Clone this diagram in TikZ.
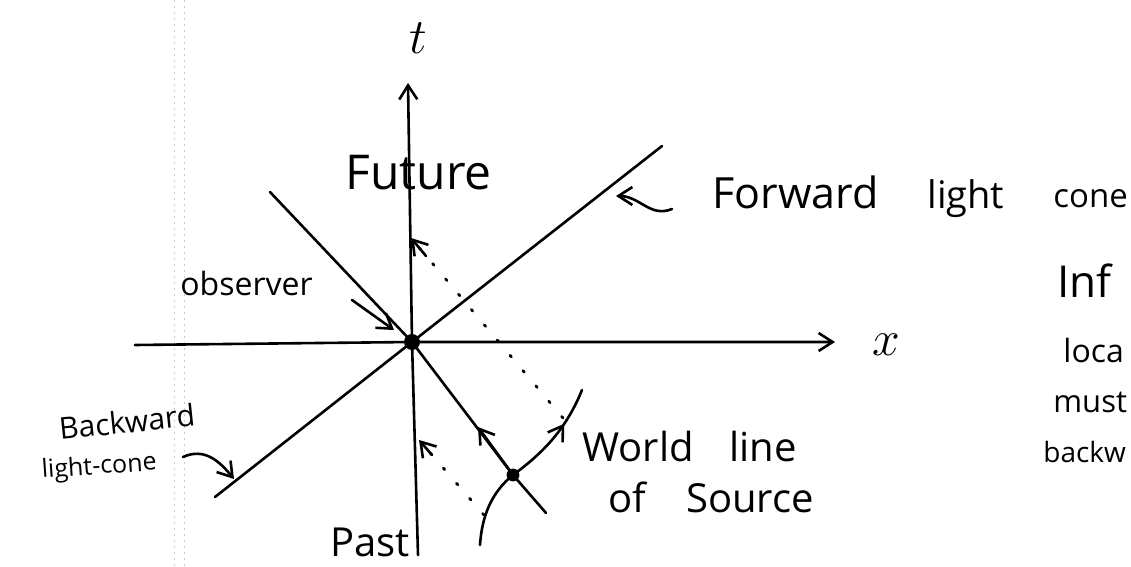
\documentclass[tikz,border=0pt]{standalone}
\usepackage{fontspec}
\setmainfont{Open Sans}
\usetikzlibrary{arrows.meta,decorations.markings}
\begin{document}
\begin{tikzpicture}[x=0.5pt,y=-0.5pt,
  ink/.style={line width=1.3pt, line cap=round, line join=round},
  barb/.style={-{Straight Barb[length=7pt,width=9pt,line width=1.3pt]}},
  lbl/.style={inner sep=0pt, anchor=base west},
  ray/.style={line width=1.4pt, line cap=round, dash pattern=on 1pt off 9pt},
  scan/.style={gray!40, line width=0.4pt, dash pattern=on 1pt off 2pt}]
\useasboundingbox (0,0) rectangle (1131,567);
\clip (0,0) rectangle (1131,567);
% scan artefacts
\coordinate (s1a) at (174,0); \coordinate (s1b) at (174,567);
\coordinate (s2a) at (184,0); \coordinate (s2b) at (184,567);
\draw[scan] (s1a) -- (s1b);
\draw[scan] (s2a) -- (s2b);
% key points
\coordinate (O) at (412,342);
\coordinate (S) at (513,475);
\coordinate (tB) at (418,555);
\coordinate (tT) at (408,83);
\coordinate (xL) at (135,345);
\coordinate (xR) at (835,342);
\coordinate (fU) at (662,146);
\coordinate (fL) at (215,497);
\coordinate (bU) at (270,192);
\coordinate (bL) at (546,513);
\coordinate (cA) at (478,427);
\coordinate (wB) at (480,545);
\coordinate (wT) at (582,390);
% axes
\draw[ink,barb] (tB) -- (O) -- (tT);
\draw[ink,barb] (xL) -- (O) -- (xR);
% light cones
\draw[ink] (fL) -- (O) -- (fU);
\draw[ink] (bU) -- (O) -- (S) -- (bL);
\draw[ink,barb] (S) -- (cA);
% world line
\draw[ink, postaction={decorate}, decoration={markings,
  mark=at position 0.8 with {\arrow{Straight Barb[length=7pt,width=9pt,line width=1.3pt]}}}]
  (wB) .. controls (482,515) and (492,492) .. (S)
       .. controls (540,455) and (565,432) .. (wT);
% light rays
\coordinate (r1a) at (563,418); \coordinate (r1b) at (411,238);
\coordinate (r2a) at (484,515); \coordinate (r2b) at (419,440);
\draw[ray] (r1a) -- (r1b);
\draw[ink,barb] (426,256) -- (r1b);
\draw[ray] (r2a) -- (r2b);
\draw[ink,barb] (432,455) -- (r2b);
% dots
\fill (O) circle[radius=4pt];
\fill (S) circle[radius=3.2pt];
% labels
\node[inner sep=0pt] (tl) at (418,38) {\fontsize{34}{34}\selectfont $t$};
\node[inner sep=0pt] (xl) at (886,345) {\fontsize{32}{32}\selectfont $x$};
\node[lbl] (fut) at (345,190) {\fontsize{24}{24}\selectfont Future};
\node[lbl] (fwd1) at (712,209) {\fontsize{21.5}{21.5}\selectfont Forward};
\node[lbl] (fwd2) at (927,209) {\fontsize{19}{19}\selectfont light};
\node[lbl] (fwd3) at (1053,207) {\fontsize{16.5}{16.5}\selectfont cone};
\node[lbl] (obs) at (180,295) {\fontsize{16}{16}\selectfont observer};
\node[lbl, rotate=6] (bk1) at (60,440) {\fontsize{15}{15}\selectfont Backward};
\node[lbl, rotate=4] (bk2) at (42,478) {\fontsize{12.5}{12.5}\selectfont light-cone};
\node[lbl] (wl1) at (582,461) {\fontsize{20}{20}\selectfont World\hspace{18pt}line};
\node[lbl] (wl2) at (608,512) {\fontsize{20}{20}\selectfont of\hspace{20pt}Source};
\node[lbl] (past) at (330,556) {\fontsize{20}{20}\selectfont Past};
\node[lbl] (r1) at (1057,298) {\fontsize{22}{22}\selectfont Inf};
\node[lbl] (r2) at (1063,362) {\fontsize{16}{16}\selectfont loca};
\node[lbl] (r3) at (1053,412) {\fontsize{15.5}{15.5}\selectfont must};
\node[lbl] (r4) at (1043,462) {\fontsize{14}{14}\selectfont backw};
% pointer arrows
\coordinate (oA) at (352,300); \coordinate (oB) at (394,330);
\draw[ink,barb] (oA) -- (oB);
\coordinate (tiA) at (672,209); \coordinate (tiB) at (616,196);
\draw[ink,barb] (tiA) .. controls (650,218) and (640,196) .. (tiB);
\coordinate (bkA) at (183,457); \coordinate (bkB) at (234,479);
\draw[ink,barb] (bkA) .. controls (205,447) and (220,462) .. (bkB);
\end{tikzpicture}
\end{document}
